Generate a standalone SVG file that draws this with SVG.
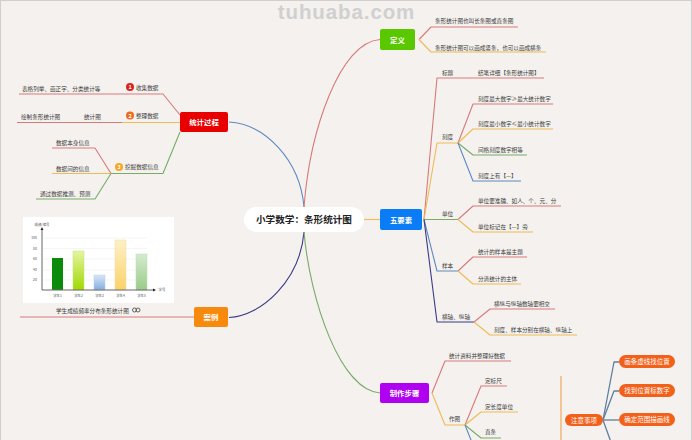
<svg xmlns="http://www.w3.org/2000/svg" width="692" height="440" viewBox="0 0 692 440">
<style>
text{font-family:"Noto Sans CJK SC","Liberation Sans",sans-serif;font-size:5.6px;fill:#3c3c3c}
.n{font-size:7.4px;font-weight:700;fill:#fff;text-anchor:middle}
.p{font-size:6.500px;fill:#fff;text-anchor:middle}
.l{fill:none;stroke-width:1.100;stroke-linejoin:round}
.r{stroke:#d97a7a}.y{stroke:#eebc55}.g{stroke:#78ad68}.b{stroke:#6089c0}.nv{stroke:#3c3a88}.s{stroke:#5f7f9f;stroke-width:1.300}
.t{font-size:3.4px;fill:#555;text-anchor:middle}
</style>
<defs>
<linearGradient id="g2" x1="0" y1="0" x2="0" y2="1"><stop offset="0" stop-color="#e4f5a0"/><stop offset="1" stop-color="#a0d800"/></linearGradient>
<linearGradient id="g3" x1="0" y1="0" x2="0" y2="1"><stop offset="0" stop-color="#d8e6f5"/><stop offset="1" stop-color="#80aee0"/></linearGradient>
<linearGradient id="g4" x1="0" y1="0" x2="0" y2="1"><stop offset="0" stop-color="#fdf0c8"/><stop offset="1" stop-color="#fbd268"/></linearGradient>
<linearGradient id="g5" x1="0" y1="0" x2="0" y2="1"><stop offset="0" stop-color="#d5ead0"/><stop offset="1" stop-color="#98cc88"/></linearGradient>
</defs>
<rect x="0.500" y="0.500" width="691" height="460" fill="#f4f1ee" stroke="#cfcfcf"/>
<text x="346.500" y="19" text-anchor="middle" style="font-family:'Liberation Sans',sans-serif;font-size:20.500px;letter-spacing:0.900px;font-weight:700;fill:#d0d0d0">tuhuaba.com</text>
<g id="connectors">
<path class="l b" d="M304 207C300 160 265 124 229 122"/>
<path class="l r" d="M304 207C310 130 340 42 380 39.500"/>
<path class="l nv" d="M304 232C300 280 262 316 229 317.500"/>
<path class="l g" d="M304 232C310 300 340 390 380 393"/>
<path class="l y" d="M364 219.500H380"/>
<path class="l r" d="M419 39.500L431 27H518"/>
<path class="l y" d="M419 39.500L431 52H546"/>
<path class="l r" d="M424 219.500L437 78H544"/>
<path class="l y" d="M424 219.500L437 143H458"/>
<path class="l r" d="M458 143L473 104H553"/>
<path class="l y" d="M458 143L473 129H553"/>
<path class="l g" d="M458 143L473 155H527"/>
<path class="l b" d="M458 143L473 181H521"/>
<path class="l g" d="M424 219.500H458"/>
<path class="l r" d="M458 219.500L473 206H561"/>
<path class="l y" d="M458 219.500L473 232H533"/>
<path class="l b" d="M424 219.500L437 271H458"/>
<path class="l r" d="M458 271L473 257H527"/>
<path class="l y" d="M458 271L473 284H521"/>
<path class="l nv" d="M424 219.500L437 322H474"/>
<path class="l r" d="M474 322L490 309H555"/>
<path class="l y" d="M474 322L490 335H577"/>
<path class="l r" d="M432 393L445 361H511"/>
<path class="l y" d="M432 393L445 425H465"/>
<path class="l r" d="M465 425L481 386H507"/>
<path class="l y" d="M465 425L481 412H518"/>
<path class="l g" d="M465 425L481 438H501"/>
<path class="l b" d="M465 425L473 445"/>
<path class="l" stroke="#f0a050" d="M561 376V440"/>
<path class="l s" d="M603 420L614 362H619"/>
<path class="l s" d="M603 420L614 391H619"/>
<path class="l s" d="M603 420H619"/>
<path class="l s" d="M603 420L612 445"/>
<path class="l r" d="M180 115L163 94H19"/>
<path class="l r" d="M122 122.500H17"/>
<path class="l y" d="M180 122.500H122"/>
<path class="l g" d="M180 132L163 173.500H111"/>
<path class="l r" d="M111 173.500L95 148H52"/>
<path class="l y" d="M111 173.500H52"/>
<path class="l g" d="M111 173.500L95 199H36"/>
<path class="l r" d="M194 317H20"/>
</g>
<g id="center"><rect x="244" y="207" width="120" height="25" rx="12.500" fill="#fff"/><text x="304" y="223" text-anchor="middle" style="font-size:9.600px;font-weight:700;fill:#222">小学数学：条形统计图</text></g>
<g id="dingyi"><rect x="380" y="29" width="35" height="21" rx="2" fill="#5ac800"/><text class="n" x="397.500" y="42.500">定义</text></g>
<g id="wuyaosu"><rect x="380" y="209" width="42" height="21" rx="2" fill="#0a7cf5"/><text class="n" x="401" y="222.500">五要素</text></g>
<g id="zhizuo"><rect x="380" y="383" width="49" height="20" rx="2" fill="#b000f0"/><text class="n" x="404.500" y="396">制作步骤</text></g>
<g id="guocheng"><rect x="180" y="112" width="48" height="20" rx="2" fill="#e80000"/><text class="n" x="204" y="125">统计过程</text></g>
<g id="anli"><rect x="194" y="307" width="34" height="20" rx="2" fill="#f78a0c"/><text class="n" x="211" y="320">案例</text></g>
<g id="labels-right">
<text x="435" y="23">条形统计图也叫长条图或直条图</text>
<text x="435" y="49.500">条形统计图可以画成竖条，也可以画成横条</text>
<text x="442" y="75">标题</text><text x="478" y="75">结笔详细【条形统计图】</text>
<text x="442" y="139">刻度</text>
<text x="478" y="101">刻度最大数字≥最大统计数字</text>
<text x="478" y="126">刻度最小数字≤最小统计数字</text>
<text x="478" y="152">间格刻度数字相等</text>
<text x="478" y="178">刻度上有【—】</text>
<text x="442" y="216">单位</text>
<text x="478" y="203">单位要准确、如人、个、元、分</text>
<text x="478" y="229">单位标记在【—】旁</text>
<text x="442" y="268">样本</text>
<text x="478" y="254">统计的样本是主题</text>
<text x="478" y="281">分清统计的主体</text>
<text x="442" y="319">横轴、纵轴</text>
<text x="494" y="306">横纵与纵轴数轴要相交</text>
<text x="494" y="332">刻度、样本分别在横轴、纵轴上</text>
<text x="449" y="358">统计资料并整理好数据</text>
<text x="449" y="421">作图</text>
<text x="485" y="383">定标尺</text>
<text x="485" y="409">定长度单位</text>
<text x="485" y="434">直条</text>
</g>
<g id="zhuyi"><rect x="565" y="414" width="38" height="12" rx="6" fill="#f2601a"/><text class="p" x="584" y="422.500">注意事项</text></g>
<g id="p1"><rect x="619" y="355" width="56" height="13" rx="6.500" fill="#f2601a"/><text class="p" x="647" y="364">画条虚线找位置</text></g>
<g id="p2"><rect x="619" y="384" width="56" height="13" rx="6.500" fill="#f2601a"/><text class="p" x="647" y="393">找到位置标数字</text></g>
<g id="p3"><rect x="619" y="413" width="56" height="13" rx="6.500" fill="#f2601a"/><text class="p" x="647" y="422">确定范围描画线</text></g>
<g id="labels-left">
<text x="22" y="91">表格列举、画正字、分类统计等</text>
<circle cx="130" cy="87" r="4" fill="#d8231f"/><text x="130" y="89" text-anchor="middle" style="font-size:5.500px;font-weight:700;fill:#fff">1</text>
<text x="136" y="90">收集数据</text>
<text x="21" y="119">绘制条形统计图</text><text x="84" y="119">统计图</text>
<circle cx="130" cy="115.500" r="4" fill="#ee6a1c"/><text x="130" y="117.500" text-anchor="middle" style="font-size:5.500px;font-weight:700;fill:#fff">2</text>
<text x="136" y="118">整理数据</text>
<circle cx="119" cy="167" r="4" fill="#f5a623"/><text x="119" y="169" text-anchor="middle" style="font-size:5.500px;font-weight:700;fill:#fff">3</text>
<text x="125" y="169">挖掘数据信息</text>
<text x="56" y="145">数据本身信息</text>
<text x="56" y="170.500">数据间的信息</text>
<text x="40" y="196">通过数据推测、预测</text>
</g>
<g id="chart">
<rect x="23" y="217" width="151" height="86" fill="#fff"/>
<path d="M43 238H147M43 248.500H147M43 259H147M43 270H147M43 280H147" stroke="#eee" stroke-width="0.600"/>
<rect x="52" y="258" width="11" height="32" fill="#0b8a0b"/>
<rect x="73" y="251" width="11" height="39" fill="url(#g2)" stroke="#c8e070" stroke-width="0.500"/>
<rect x="94" y="275" width="11" height="15" fill="url(#g3)" stroke="#b8cfe8" stroke-width="0.500"/>
<rect x="115" y="240" width="11" height="50" fill="url(#g4)" stroke="#f0dca0" stroke-width="0.500"/>
<rect x="136" y="254" width="11" height="36" fill="url(#g5)" stroke="#bcdcb0" stroke-width="0.500"/>
<path d="M42 290V229M42 290H153" stroke="#666" stroke-width="1" fill="none"/>
<path d="M42 227l-1.500 3h3zM156 290l-3-1.500v3z" fill="#222"/>
<text class="t" x="42" y="226">成绩/编号</text><text class="t" x="162" y="291">学号</text>
<text class="t" x="34" y="239">100</text><text class="t" x="35" y="249.500">80</text><text class="t" x="35" y="260">60</text><text class="t" x="35" y="271">40</text><text class="t" x="35" y="281">20</text>
<text class="t" x="57.500" y="297">学生1</text><text class="t" x="78.500" y="297">学生2</text><text class="t" x="99.500" y="297">学生3</text><text class="t" x="120.500" y="297">学生4</text><text class="t" x="141.500" y="297">学生5</text>
</g>
<text x="56" y="312.500">学生成绩频率分布条形统计图</text>
<circle cx="134.500" cy="310" r="2" fill="none" stroke="#555" stroke-width="0.900"/><circle cx="138" cy="310" r="2" fill="none" stroke="#555" stroke-width="0.900"/>
</svg>
